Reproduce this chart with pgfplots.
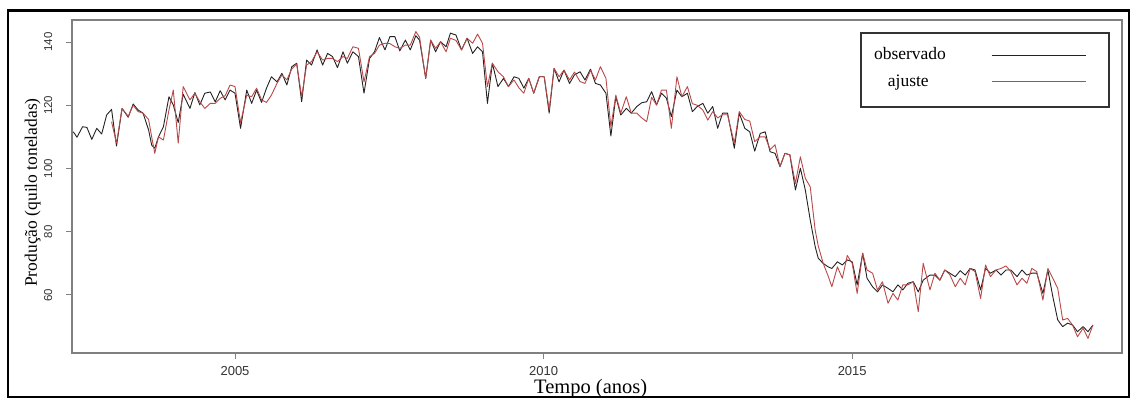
\documentclass[border=0pt]{standalone}
\usepackage{fontspec}
\setmainfont{Liberation Serif}
\newfontfamily\arialf{Liberation Sans}
\usepackage{pgfplots}
\usepackage{pgfplotstable}
\pgfplotsset{compat=1.18}
\definecolor{obs}{HTML}{222222}
\definecolor{fit}{HTML}{B94848}
\definecolor{boxgray}{HTML}{808080}
\definecolor{ticktxt}{HTML}{333333}

\pgfplotstableread{
year val
2002.38 111.6
2002.44 109.9
2002.53 113.2
2002.60 113.0
2002.68 109.2
2002.76 112.7
2002.84 110.9
2002.92 116.9
2003.00 118.7
2003.08 107.1
2003.17 119.0
2003.27 116.2
2003.35 120.4
2003.43 118.5
2003.51 117.5
2003.60 112.2
2003.65 107.4
2003.70 106.4
2003.76 110.0
2003.84 113.2
2003.93 122.7
2004.00 120.1
2004.08 114.5
2004.16 123.5
2004.27 119.0
2004.35 124.0
2004.43 120.1
2004.51 123.8
2004.60 124.2
2004.68 121.1
2004.76 124.6
2004.84 121.7
2004.92 124.8
2005.00 123.8
2005.09 112.7
2005.19 124.8
2005.27 120.6
2005.35 124.8
2005.43 120.9
2005.51 125.4
2005.59 129.0
2005.68 127.4
2005.76 130.1
2005.84 126.4
2005.92 132.2
2006.00 133.3
2006.08 121.1
2006.16 134.3
2006.24 132.7
2006.33 137.5
2006.42 132.7
2006.50 136.4
2006.58 135.4
2006.66 131.9
2006.75 136.9
2006.82 133.3
2006.91 136.9
2007.00 135.4
2007.09 123.8
2007.18 134.8
2007.26 136.9
2007.34 141.4
2007.43 137.5
2007.51 141.7
2007.59 141.7
2007.67 137.2
2007.76 140.6
2007.84 137.5
2007.93 142.0
2007.99 140.6
2008.09 128.5
2008.17 140.6
2008.25 136.9
2008.33 140.1
2008.42 138.5
2008.49 142.8
2008.58 142.2
2008.67 137.5
2008.76 141.2
2008.85 136.4
2008.93 138.5
2009.01 136.9
2009.09 120.6
2009.17 133.3
2009.26 125.9
2009.35 128.5
2009.43 125.9
2009.52 129.0
2009.60 128.5
2009.68 125.4
2009.76 128.5
2009.84 123.8
2009.93 129.0
2010.01 129.0
2010.09 117.5
2010.17 131.7
2010.25 127.4
2010.33 131.1
2010.42 126.9
2010.50 129.6
2010.59 130.6
2010.67 128.0
2010.76 131.4
2010.84 126.9
2010.92 126.4
2011.01 123.8
2011.09 110.3
2011.17 122.7
2011.25 116.9
2011.34 119.0
2011.42 117.5
2011.51 119.6
2011.59 120.8
2011.67 121.1
2011.75 124.3
2011.83 120.1
2011.91 123.8
2011.99 122.2
2012.07 116.4
2012.16 124.8
2012.24 122.7
2012.33 123.8
2012.41 118.0
2012.49 119.6
2012.58 120.6
2012.66 117.5
2012.74 119.6
2012.82 112.7
2012.90 117.5
2012.98 117.5
2013.09 106.4
2013.17 117.5
2013.26 112.7
2013.34 111.6
2013.42 105.5
2013.51 111.1
2013.59 111.6
2013.67 105.3
2013.75 104.8
2013.83 100.6
2013.91 104.8
2013.99 104.3
2014.08 93.2
2014.16 100.1
2014.24 93.2
2014.32 83.7
2014.40 75.3
2014.45 71.6
2014.53 70.0
2014.61 68.9
2014.67 68.4
2014.76 70.5
2014.84 69.5
2014.92 71.1
2015.00 70.5
2015.08 63.2
2015.17 73.2
2015.24 65.3
2015.33 62.6
2015.41 61.0
2015.49 63.2
2015.58 62.1
2015.66 61.0
2015.74 63.2
2015.82 61.6
2015.90 63.7
2015.99 64.2
2016.07 61.0
2016.15 64.7
2016.26 66.3
2016.34 66.3
2016.42 64.7
2016.50 67.9
2016.58 66.9
2016.67 65.8
2016.75 67.7
2016.83 66.3
2016.91 68.4
2016.99 67.9
2017.08 61.6
2017.16 68.4
2017.24 66.9
2017.33 67.9
2017.41 66.3
2017.49 67.9
2017.57 67.9
2017.67 65.8
2017.75 67.9
2017.83 66.3
2017.91 66.9
2017.99 66.9
2018.09 60.5
2018.17 67.9
2018.25 59.5
2018.33 52.1
2018.41 50.0
2018.49 51.1
2018.57 50.5
2018.65 48.4
2018.74 50.0
2018.82 48.4
2018.90 50.5
}\obsdata

\pgfplotstableread{
year val
2003.00 114.8
2003.08 108.0
2003.17 119.0
2003.27 116.5
2003.35 120.0
2003.43 118.0
2003.51 117.5
2003.60 115.5
2003.65 110.0
2003.70 104.8
2003.76 110.0
2003.84 109.0
2003.93 118.5
2004.00 124.8
2004.08 108.0
2004.16 125.9
2004.27 121.7
2004.35 123.8
2004.43 121.1
2004.51 119.0
2004.60 120.6
2004.68 120.6
2004.76 122.2
2004.84 123.0
2004.92 126.4
2005.00 125.9
2005.09 114.5
2005.19 123.2
2005.27 122.7
2005.35 125.4
2005.43 121.7
2005.51 120.9
2005.59 123.2
2005.68 126.9
2005.76 129.6
2005.84 128.0
2005.92 131.5
2006.00 133.0
2006.08 122.7
2006.16 132.7
2006.24 133.8
2006.33 136.9
2006.42 134.3
2006.50 134.8
2006.58 134.8
2006.66 133.8
2006.75 135.4
2006.82 134.8
2006.91 138.5
2007.00 138.0
2007.09 127.4
2007.18 135.4
2007.26 136.4
2007.34 139.0
2007.43 139.6
2007.51 139.5
2007.59 138.5
2007.67 138.0
2007.76 139.0
2007.84 139.0
2007.93 143.3
2007.99 141.5
2008.09 128.5
2008.17 140.6
2008.25 138.0
2008.33 140.1
2008.42 136.9
2008.49 141.2
2008.58 140.5
2008.67 137.5
2008.76 141.2
2008.85 139.6
2008.93 142.5
2009.01 139.6
2009.09 125.9
2009.17 133.3
2009.26 130.6
2009.35 129.0
2009.43 125.9
2009.52 128.0
2009.60 125.5
2009.68 123.8
2009.76 128.5
2009.84 123.8
2009.93 129.0
2010.01 129.0
2010.09 118.5
2010.17 131.7
2010.25 129.0
2010.33 131.1
2010.42 128.0
2010.50 130.5
2010.59 127.5
2010.67 126.9
2010.76 131.0
2010.84 128.0
2010.92 132.2
2011.01 128.5
2011.09 113.2
2011.17 123.2
2011.25 117.5
2011.34 122.7
2011.42 117.5
2011.51 117.5
2011.59 116.0
2011.67 114.8
2011.75 122.5
2011.83 120.1
2011.91 124.8
2011.99 124.8
2012.07 112.7
2012.16 129.0
2012.24 122.7
2012.33 125.9
2012.41 120.5
2012.49 120.0
2012.58 118.5
2012.66 115.3
2012.74 118.0
2012.82 116.0
2012.90 117.0
2012.98 117.0
2013.09 108.0
2013.17 118.0
2013.26 115.5
2013.34 115.0
2013.42 108.5
2013.51 110.0
2013.59 110.0
2013.67 106.0
2013.75 107.5
2013.83 100.6
2013.91 104.8
2013.99 104.3
2014.08 95.3
2014.16 103.7
2014.24 96.9
2014.32 94.2
2014.40 80.5
2014.45 75.5
2014.53 70.0
2014.61 66.0
2014.67 62.6
2014.76 68.9
2014.84 65.3
2014.92 72.5
2015.00 70.0
2015.08 60.5
2015.17 73.2
2015.24 67.9
2015.33 66.9
2015.41 61.6
2015.49 64.2
2015.58 57.4
2015.66 60.5
2015.74 58.4
2015.82 63.2
2015.90 63.2
2015.99 64.2
2016.07 54.7
2016.15 70.0
2016.26 61.6
2016.34 66.9
2016.42 64.7
2016.50 67.9
2016.58 66.5
2016.67 62.6
2016.75 65.3
2016.83 63.2
2016.91 68.4
2016.99 67.4
2017.08 58.9
2017.16 69.5
2017.24 65.8
2017.33 67.9
2017.41 68.4
2017.49 69.2
2017.57 67.4
2017.67 63.2
2017.75 65.3
2017.83 63.7
2017.91 68.4
2017.99 67.4
2018.09 58.4
2018.17 68.4
2018.25 65.3
2018.33 62.1
2018.41 52.1
2018.49 52.6
2018.57 50.5
2018.65 46.8
2018.74 49.5
2018.82 46.3
2018.90 50.5
}\fitdata

\begin{document}
\begin{tikzpicture}[x=1pt,y=1pt]
\useasboundingbox (0,0) rectangle (1131,398);
\begin{axis}[
  at={(72pt,45pt)}, anchor=south west,
  scale only axis, width=1050pt, height=333pt,
  xmin=2002.359, xmax=2019.371, ymin=41.66, ymax=146.96,
  axis line style={boxgray, line width=1.3pt},
  xtick={2005,2010,2015}, ytick={60,80,100,120,140},
  tick pos=left, tick align=outside, major tick length=6pt,
  tick style={boxgray, line width=1pt},
  /pgf/number format/assume math mode=true,
  /pgf/number format/1000 sep={},
  xticklabel style={font=\arialf\fontsize{13}{13}\selectfont, text=ticktxt, anchor=north, inner sep=0pt, yshift=-7pt},
  yticklabel style={font=\arialf\fontsize{11.5}{11.5}\selectfont, text=ticktxt, rotate=90, anchor=south, inner sep=0pt, yshift=13.5pt},
  xlabel={Tempo (anos)},
  ylabel={Produção (quilo toneladas)},
  xlabel style={font=\fontsize{20.5}{20.5}\selectfont, at={(axis description cs:0.494,-0.1215)}, anchor=base, inner sep=0pt},
  ylabel style={font=\fontsize{17.5}{17.5}\selectfont, at={(axis description cs:-0.0335,0.482)}, anchor=base, inner sep=0pt},
  clip=true,
]
\addplot[obs, line width=0.9pt, line join=round] table[x=year, y=val] {\obsdata};
\addplot[fit, line width=0.9pt, line join=round] table[x=year, y=val] {\fitdata};
\end{axis}
% legend
\draw[line width=1.1pt, draw=black!80] (861,365) rectangle (1109,291);
\node[anchor=base, inner sep=0pt, font=\fontsize{17.5}{17.5}\selectfont] at (910,338) {observado};
\node[anchor=base, inner sep=0pt, font=\fontsize{17.5}{17.5}\selectfont] at (908.3,311) {ajuste};
\draw[obs, line width=0.9pt] (991.7,343) -- (1086,343);
\draw[fit, line width=0.9pt] (991.7,316.3) -- (1086,316.3);
% outer frame
\draw[line width=2.5pt] (8.2,1.2) rectangle (1128.8,387.4);
\end{tikzpicture}
\end{document}
